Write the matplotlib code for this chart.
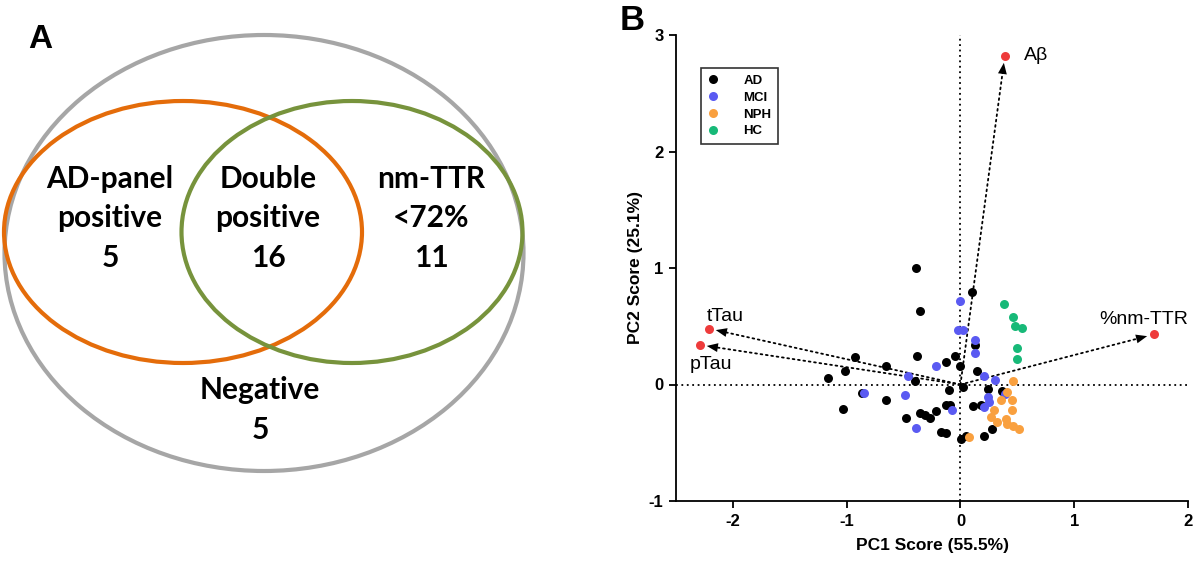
import matplotlib.pyplot as plt
from matplotlib.patches import Ellipse
from matplotlib.lines import Line2D

# ---------------- data ----------------
# Venn diagram (panel A)
venn_labels = ['AD-panel\npositive', 'Double\npositive', 'nm-TTR\n<72%', 'Negative']
venn_counts = [5, 16, 11, 5]

# PCA scores (panel B)
ad_x = [-0.387, 0.099, -0.358, 0.131, -0.382, -0.927, -0.656, -1.014, -1.160, -0.125,
        -0.052, 0.0, 0.149, -0.402, 0.020, -0.102, -0.868, 0.239, 0.364, -0.658,
        -1.029, -0.125, -0.090, 0.114, 0.181, -0.358, -0.315, -0.212, -0.475, -0.265,
        -0.169, -0.125, 0.009, 0.049, 0.204, 0.277]
ad_y = [1.002, 0.792, 0.635, 0.335, 0.243, 0.232, 0.163, 0.114, 0.054, 0.197,
        0.246, 0.155, 0.118, 0.026, -0.023, -0.046, -0.074, -0.037, -0.052, -0.137,
        -0.212, -0.175, -0.172, -0.186, -0.172, -0.243, -0.260, -0.226, -0.286, -0.286,
        -0.409, -0.415, -0.464, -0.438, -0.438, -0.386]
mci_x = [-0.003, -0.023, 0.020, 0.131, 0.128, -0.219, -0.457, 0.204, 0.300, -0.848,
         -0.490, 0.239, 0.253, 0.210, -0.073, -0.387, 0.39]
mci_y = [0.721, 0.464, 0.472, 0.386, 0.269, 0.160, 0.075, 0.069, 0.040, -0.074,
         -0.094, -0.109, -0.152, -0.189, -0.223, -0.375, -0.08]
nph_x = [0.466, 0.405, 0.356, 0.449, 0.297, 0.452, 0.268, 0.321, 0.399, 0.405,
         0.463, 0.516, 0.079]
nph_y = [0.028, -0.066, -0.129, -0.129, -0.223, -0.223, -0.281, -0.318, -0.295, -0.343,
         -0.358, -0.386, -0.452]
hc_x = [0.385, 0.463, 0.481, 0.539, 0.501, 0.501]
hc_y = [0.693, 0.578, 0.506, 0.487, 0.315, 0.215]

# loadings
load_names = ['A\u03b2', '%nm-TTR', 'tTau', 'pTau']
load_x = [0.39, 1.70, -2.21, -2.29]
load_y = [2.82, 0.43, 0.48, 0.34]

groups = ['AD', 'MCI', 'NPH', 'HC']
group_colors = ['#000000', '#5a5af2', '#f9a03f', '#17b978']

# ---------------- figure ----------------
fig = plt.figure(figsize=(12, 5.61), dpi=100)

# Panel A: pixel coordinates, y down
axA = fig.add_axes([0, 0, 560 / 1200, 1])
axA.set_xlim(0, 560)
axA.set_ylim(561, 0)
axA.axis('off')

axA.add_patch(Ellipse((264, 253), 519, 436, fill=False, ec='#a6a6a6', lw=3))
axA.add_patch(Ellipse((183, 232), 358, 262, fill=False, ec='#e46c0a', lw=3))
axA.add_patch(Ellipse((352, 232), 341, 262, fill=False, ec='#77933c', lw=3))

venn_pos = [(110, 218), (268, 218), (431, 218), (260, 410)]
for lab, cnt, (px, py) in zip(venn_labels, venn_counts, venn_pos):
    axA.text(px, py, f'{lab}\n{cnt}', ha='center', va='center', family='Lato',
             weight='bold', fontsize=21.5, linespacing=1.5)

fig.text(40 / 1200, 1 - 39 / 561, 'A', ha='center', va='center',
         family='Liberation Sans', weight='bold', fontsize=24)
fig.text(632 / 1200, 1 - 21 / 561, 'B', ha='center', va='center',
         family='Liberation Sans', weight='bold', fontsize=25)

# Panel B: PCA biplot
axB = fig.add_axes([676 / 1200, 1 - 501 / 561, 512 / 1200, 466 / 561])
axB.set_xlim(-2.5, 2)
axB.set_ylim(-1, 3)
axB.axhline(0, color='k', ls=(0, (1, 2)), lw=1.3, zorder=1)
axB.axvline(0, color='k', ls=(0, (1, 2)), lw=1.3, zorder=1)

# dotted shafts + solid filled heads
for lx, ly in zip(load_x, load_y):
    axB.annotate('', xy=(lx, ly), xytext=(0, 0),
                 arrowprops=dict(arrowstyle='-', ls=(0, (1, 2)), lw=1.3, color='k',
                                 shrinkA=0, shrinkB=9), zorder=2)
    axB.annotate('', xy=(lx, ly), xytext=(0, 0),
                 arrowprops=dict(arrowstyle='-|>,head_length=0.8,head_width=0.32',
                                 lw=0, color='k', shrinkA=0, shrinkB=5), zorder=2)

ms = 42
axB.scatter(ad_x, ad_y, s=ms, c=group_colors[0], zorder=3, linewidths=0)
axB.scatter(mci_x, mci_y, s=ms, c=group_colors[1], zorder=3, linewidths=0)
axB.scatter(nph_x, nph_y, s=ms, c=group_colors[2], zorder=3, linewidths=0)
axB.scatter(hc_x, hc_y, s=ms, c=group_colors[3], zorder=3, linewidths=0)
axB.scatter(load_x, load_y, s=ms, c='#ee3b3b', zorder=4, linewidths=0)

# loading labels (offsets in points)
offs = [(14, 0, 'left', 'center'), (-7, 11, 'center', 'center'),
        (12, 9, 'center', 'center'), (8, -14, 'center', 'center')]
for name, lx, ly, (dx, dy, ha, va) in zip(load_names, load_x, load_y, offs):
    axB.annotate(name, (lx, ly), xytext=(dx, dy), textcoords='offset points',
                 ha=ha, va=va, family='Liberation Sans', fontsize=14)

for s in ['top', 'right']:
    axB.spines[s].set_visible(False)
for s in ['left', 'bottom']:
    axB.spines[s].set_linewidth(1.3)
axB.set_xticks([-2, -1, 0, 1, 2])
axB.set_yticks([-1, 0, 1, 2, 3])
axB.set_xticklabels(['-2', '-1', '0', '1', '2'])
axB.set_yticklabels(['-1', '0', '1', '2', '3'])
axB.tick_params(length=5, width=1.3, labelsize=12, pad=4)
for t in axB.get_xticklabels() + axB.get_yticklabels():
    t.set_family('Liberation Sans')
    t.set_weight('bold')
axB.set_xlabel('PC1 Score (55.5%)', family='Liberation Sans', weight='bold',
               fontsize=12.5, labelpad=7)
axB.set_ylabel('PC2 Score (25.1%)', family='Liberation Sans', weight='bold',
               fontsize=12.5, labelpad=4)

handles = [Line2D([], [], ls='none', marker='o', ms=6.5, mfc=c, mec='none')
           for c in group_colors]
leg = axB.legend(handles, groups, loc='upper left', bbox_to_anchor=(0.049, 0.929),
                 borderaxespad=0, frameon=True, fancybox=False, handlelength=0.8,
                 handletextpad=1.9, labelspacing=0.35, borderpad=0.5,
                 prop={'family': 'Liberation Sans', 'weight': 'bold', 'size': 9.5})
leg.get_frame().set_edgecolor('k')
leg.get_frame().set_linewidth(1.2)

fig.savefig('out.png', dpi=100)
